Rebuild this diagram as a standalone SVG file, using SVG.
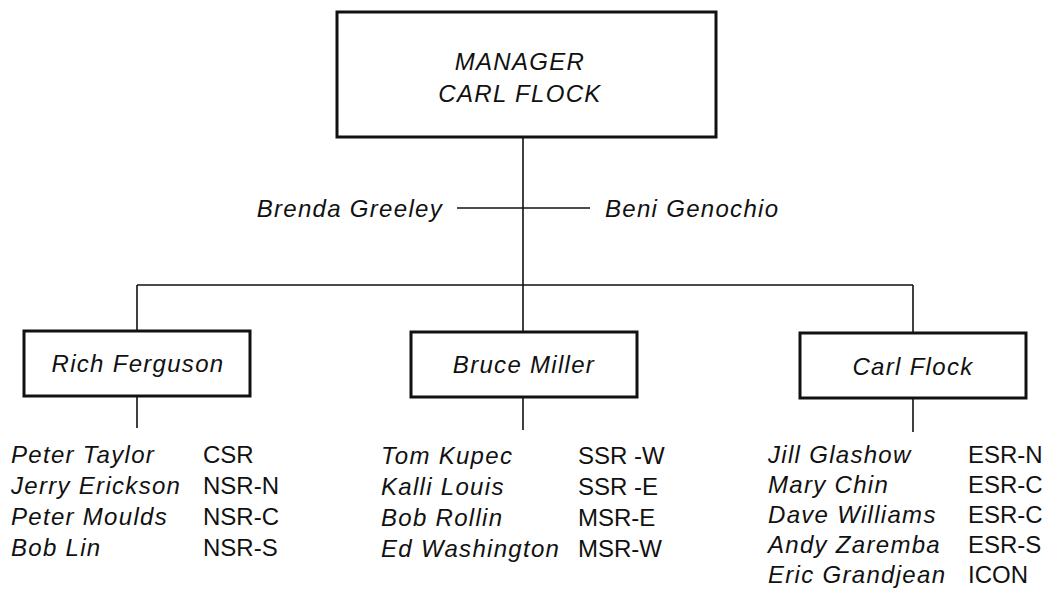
<svg xmlns="http://www.w3.org/2000/svg" width="1047" height="594" viewBox="0 0 1047 594">
  <style>
    .box { fill: #fff; stroke: #111; stroke-width: 3; }
    .wire { fill: none; stroke: #111; stroke-width: 1.6; }
    .nm, .cd { font-family: "Liberation Sans", Arial, sans-serif; font-size: 24px; fill: #111; }
    .nm { font-style: italic; letter-spacing: 1.3px; }
    .mid { text-anchor: middle; }
  </style>
  <rect width="1047" height="594" fill="#fff"/>

  <g id="connectors">
    <line class="wire" x1="523" y1="137" x2="523" y2="332"/>
    <line class="wire" x1="457" y1="208" x2="590" y2="208"/>
    <line class="wire" x1="137" y1="285" x2="913" y2="285"/>
    <line class="wire" x1="137" y1="285" x2="137" y2="331"/>
    <line class="wire" x1="913" y1="285" x2="913" y2="333"/>
    <line class="wire" x1="137" y1="396" x2="137" y2="428"/>
    <line class="wire" x1="523" y1="397" x2="523" y2="430"/>
    <line class="wire" x1="913" y1="398" x2="913" y2="432"/>
  </g>

  <g id="manager">
    <rect class="box" x="337" y="12" width="379" height="125"/>
    <text class="nm mid" x="520" y="70">MANAGER</text>
    <text class="nm mid" x="520" y="102">CARL FLOCK</text>
  </g>

  <g id="staff">
    <text class="nm" x="443" y="217" text-anchor="end">Brenda Greeley</text>
    <text class="nm" x="605" y="217">Beni Genochio</text>
  </g>

  <g id="ferguson">
    <rect class="box" x="24" y="331" width="226" height="65"/>
    <text class="nm mid" x="138" y="372">Rich Ferguson</text>
  </g>

  <g id="miller">
    <rect class="box" x="411" y="332" width="226" height="65"/>
    <text class="nm mid" x="524" y="373">Bruce Miller</text>
  </g>

  <g id="flock">
    <rect class="box" x="800" y="333" width="226" height="65"/>
    <text class="nm mid" x="913" y="375">Carl Flock</text>
  </g>

  <g id="ferguson-team">
    <text class="nm" x="11" y="463">Peter Taylor</text>
    <text class="nm" x="11" y="494">Jerry Erickson</text>
    <text class="nm" x="11" y="525">Peter Moulds</text>
    <text class="nm" x="11" y="556">Bob Lin</text>
    <text class="cd" x="203" y="463">CSR</text>
    <text class="cd" x="203" y="494">NSR-N</text>
    <text class="cd" x="203" y="525">NSR-C</text>
    <text class="cd" x="203" y="556">NSR-S</text>
  </g>

  <g id="miller-team">
    <text class="nm" x="381" y="464">Tom Kupec</text>
    <text class="nm" x="381" y="495">Kalli Louis</text>
    <text class="nm" x="381" y="526">Bob Rollin</text>
    <text class="nm" x="381" y="557">Ed Washington</text>
    <text class="cd" x="578" y="464">SSR -W</text>
    <text class="cd" x="578" y="495">SSR -E</text>
    <text class="cd" x="578" y="526">MSR-E</text>
    <text class="cd" x="578" y="557">MSR-W</text>
  </g>

  <g id="flock-team">
    <text class="nm" x="768" y="463">Jill Glashow</text>
    <text class="nm" x="768" y="493">Mary Chin</text>
    <text class="nm" x="768" y="523">Dave Williams</text>
    <text class="nm" x="768" y="553">Andy Zaremba</text>
    <text class="nm" x="768" y="583">Eric Grandjean</text>
    <text class="cd" x="968" y="463">ESR-N</text>
    <text class="cd" x="968" y="493">ESR-C</text>
    <text class="cd" x="968" y="523">ESR-C</text>
    <text class="cd" x="968" y="553">ESR-S</text>
    <text class="cd" x="968" y="583">ICON</text>
  </g>
</svg>
